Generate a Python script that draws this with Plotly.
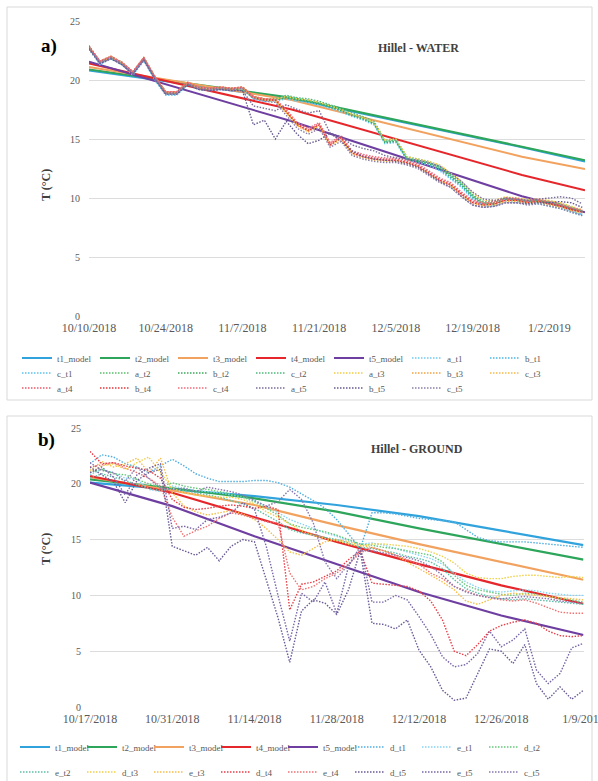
import pandas as pd
import plotly.graph_objects as go

# ---------------- Panel a (Hillel - WATER) ----------------
a_start = pd.Timestamp("2018-10-10")
a_days = list(range(0, 91, 2))
a_model_days = [0, 37, 79, 90.5]

a_t1_model = [20.8, 18.4, 14.3, 13.1]
a_t2_model = [20.9, 18.5, 14.35, 13.2]
a_t3_model = [21.1, 18.3, 13.5, 12.45]
a_t4_model = [21.4, 17.5, 11.95, 10.65]
a_t5_model = [21.55, 16.5, 10.15, 8.8]

a_t1 = [22.6, 21.3, 21.8, 21.3, 20.4, 21.6, 20.0, 18.7, 18.7, 19.6, 19.2, 19.1, 19.2, 19.1, 19.2, 18.4, 18.2, 18.2,
        18.4, 18.2, 18.1, 17.9, 17.6, 17.3, 16.9, 16.6, 16.2, 14.6, 14.7, 13.2, 13.0, 12.8, 12.3, 11.6, 10.9, 9.9, 9.3, 9.3, 9.7, 9.6, 9.5, 9.5, 9.3, 9.1, 8.8, 8.5]
b_t1 = [22.7, 21.4, 21.9, 21.4, 20.5, 21.7, 20.1, 18.8, 18.8, 19.7, 19.3, 19.2, 19.3, 19.2, 19.3, 18.5, 18.3, 18.3,
        18.5, 18.3, 18.2, 18.0, 17.7, 17.4, 17.0, 16.7, 16.3, 14.7, 14.8, 13.3, 13.1, 12.9, 12.4, 11.7, 11.0, 10.0, 9.4, 9.4, 9.8, 9.7, 9.6, 9.6, 9.4, 9.2, 8.9, 8.6]
c_t1 = [22.9, 21.5, 21.9, 21.4, 20.6, 21.8, 20.2, 18.8, 18.8, 19.7, 19.3, 19.2, 19.3, 19.2, 19.3, 18.5, 18.3, 18.4,
        18.6, 18.4, 18.3, 18.1, 17.8, 17.5, 17.1, 16.8, 16.4, 14.8, 14.9, 13.4, 13.2, 13.0, 12.6, 11.9, 11.2, 10.2, 9.5, 9.5, 9.9, 9.8, 9.7, 9.7, 9.5, 9.3, 8.9, 8.6]
a_t2 = [22.8, 21.5, 21.9, 21.4, 20.6, 21.8, 20.2, 18.9, 18.9, 19.7, 19.3, 19.2, 19.3, 19.2, 19.3, 18.5, 18.3, 18.3,
        18.6, 18.4, 18.3, 18.1, 17.8, 17.5, 17.1, 16.8, 16.4, 14.8, 14.9, 13.4, 13.2, 13.0, 12.6, 11.9, 11.2, 10.2, 9.6, 9.6, 10.0, 9.9, 9.8, 9.8, 9.7, 9.5, 9.2, 8.9]
b_t2 = [22.7, 21.5, 21.9, 21.4, 20.6, 21.8, 20.2, 18.9, 18.9, 19.7, 19.3, 19.2, 19.3, 19.2, 19.3, 18.5, 18.3, 18.3,
        18.5, 18.3, 18.2, 18.0, 17.7, 17.4, 17.0, 16.7, 16.3, 14.7, 14.8, 13.3, 13.1, 12.9, 12.5, 11.8, 11.1, 10.1, 9.5, 9.5, 9.9, 9.8, 9.7, 9.7, 9.6, 9.4, 9.1, 8.8]
c_t2 = [22.8, 21.6, 22.0, 21.5, 20.7, 21.9, 20.3, 19.0, 19.0, 19.8, 19.4, 19.3, 19.4, 19.3, 19.4, 18.6, 18.4, 18.4,
        18.7, 18.5, 18.4, 18.2, 17.9, 17.6, 17.2, 16.9, 16.5, 14.9, 15.0, 13.5, 13.3, 13.1, 12.7, 12.0, 11.3, 10.3, 9.7, 9.7, 10.0, 9.9, 9.8, 9.8, 9.7, 9.5, 9.2, 8.9]
a_t3 = [22.9, 21.6, 22.0, 21.5, 20.7, 21.9, 20.3, 19.0, 19.0, 19.8, 19.4, 19.3, 19.4, 19.3, 19.4, 18.6, 18.4, 18.4,
        18.6, 18.4, 18.3, 18.1, 17.8, 17.5, 17.1, 16.8, 16.4, 14.9, 15.0, 13.5, 13.3, 13.1, 12.8, 12.1, 11.4, 10.4, 9.8, 9.8, 10.1, 10.0, 9.9, 9.9, 9.8, 9.6, 9.3, 9.0]
b_t3 = [22.8, 21.6, 22.0, 21.5, 20.7, 21.9, 20.3, 19.0, 19.0, 19.8, 19.4, 19.3, 19.4, 19.3, 19.4, 18.6, 18.4, 18.3,
        17.3, 16.2, 15.7, 16.2, 14.5, 15.1, 13.8, 13.5, 13.3, 13.2, 13.2, 13.0, 12.7, 12.1, 11.5, 11.1, 10.3, 9.6, 9.4, 9.5, 9.8, 9.8, 9.6, 9.7, 9.5, 9.3, 9.0, 8.8]
c_t3 = [22.7, 21.5, 21.9, 21.4, 20.6, 21.8, 20.2, 18.9, 18.9, 19.7, 19.3, 19.2, 19.3, 19.2, 19.3, 18.5, 18.3, 18.2,
        17.2, 16.1, 15.6, 16.1, 14.4, 15.0, 13.7, 13.4, 13.2, 13.1, 13.1, 12.9, 12.6, 12.0, 11.4, 11.0, 10.2, 9.5, 9.3, 9.4, 9.7, 9.7, 9.5, 9.6, 9.4, 9.2, 8.9, 8.7]
a_t4 = [22.9, 21.6, 22.0, 21.5, 20.7, 21.9, 20.3, 19.0, 19.0, 19.8, 19.4, 19.3, 19.4, 19.3, 19.4, 18.6, 18.4, 18.3,
        17.4, 16.3, 15.8, 16.3, 14.6, 15.2, 13.9, 13.6, 13.4, 13.3, 13.3, 13.1, 12.8, 12.2, 11.6, 11.2, 10.4, 9.7, 9.5, 9.6, 9.9, 9.9, 9.7, 9.8, 9.6, 9.4, 9.1, 8.9]
b_t4 = [22.8, 21.5, 21.9, 21.4, 20.6, 21.8, 20.2, 18.9, 18.9, 19.7, 19.3, 19.2, 19.3, 19.2, 19.3, 18.5, 18.3, 18.3,
        17.3, 16.2, 15.7, 16.2, 14.5, 15.1, 13.8, 13.5, 13.3, 13.2, 13.2, 13.0, 12.7, 12.1, 11.5, 11.1, 10.3, 9.6, 9.4, 9.5, 9.8, 9.8, 9.6, 9.7, 9.5, 9.3, 9.0, 8.8]
c_t4 = [22.8, 21.6, 22.0, 21.5, 20.7, 21.9, 20.3, 19.0, 19.0, 19.8, 19.4, 19.3, 19.4, 19.3, 19.4, 18.6, 18.4, 18.4,
        17.5, 16.4, 15.9, 16.4, 14.7, 15.3, 14.0, 13.7, 13.5, 13.4, 13.4, 13.2, 12.9, 12.3, 11.7, 11.3, 10.5, 9.8, 9.6, 9.7, 10.0, 10.0, 9.8, 9.9, 9.7, 9.5, 9.2, 9.0]
a_t5 = [22.6, 21.4, 21.8, 21.3, 20.5, 21.7, 20.1, 18.8, 18.8, 19.6, 19.2, 19.1, 19.2, 19.1, 19.1, 17.8, 17.6, 17.4,
        17.9, 17.5, 17.2, 17.4, 15.5, 15.2, 14.5, 14.2, 14.0, 13.6, 13.4, 13.3, 13.2, 13.0, 12.7, 12.1, 11.4, 10.5, 9.9, 9.8, 10.0, 9.9, 9.8, 9.9, 10.0, 10.1, 10.0, 9.5]
b_t5 = [22.7, 21.4, 21.8, 21.3, 20.5, 21.7, 20.1, 18.8, 18.8, 19.6, 19.2, 19.1, 19.2, 19.1, 19.1, 16.2, 16.6, 15.0,
        16.5, 15.4, 14.6, 14.9, 15.5, 14.8, 14.0, 13.5, 13.3, 13.2, 13.1, 12.9, 12.6, 12.0, 11.4, 10.9, 10.1, 9.4, 9.2, 9.3, 9.6, 9.6, 9.5, 9.6, 9.6, 9.7, 9.6, 9.2]
c_t5 = [22.8, 21.5, 21.9, 21.4, 20.6, 21.8, 20.2, 18.9, 18.9, 19.7, 19.3, 19.2, 19.3, 19.2, 19.3, 18.4, 18.2, 18.1,
        17.0, 15.9, 15.4, 15.9, 14.3, 14.8, 13.6, 13.3, 13.1, 13.0, 13.0, 12.8, 12.5, 11.9, 11.3, 10.9, 10.1, 9.4, 9.2, 9.3, 9.6, 9.6, 9.4, 9.5, 9.3, 9.1, 8.8, 8.5]

# ---------------- Panel b (Hillel - GROUND) ----------------
b_start = pd.Timestamp("2018-10-17")
b_days = list(range(0, 85, 2))
b_model_days = [0, 14, 28, 42, 56, 70, 84]

b_t1_model = [20.1, 19.5, 18.9, 18.1, 17.1, 15.8, 14.5]
b_t2_model = [20.4, 19.6, 18.7, 17.5, 16.0, 14.6, 13.2]
b_t3_model = [20.6, 19.4, 18.1, 16.3, 14.6, 13.0, 11.4]
b_t4_model = [20.7, 19.2, 17.0, 14.8, 12.8, 10.9, 9.25]
b_t5_model = [20.1, 18.0, 15.3, 12.8, 10.3, 8.2, 6.45]

d_t1 = [21.8, 22.6, 22.4, 21.8, 21.5, 21.0, 21.6, 22.2, 21.6, 20.9, 20.5, 20.2, 20.2, 20.2, 20.3, 20.3, 20.1, 19.7, 19.1, 18.5,
        17.8, 16.8, 15.5, 14.2, 17.4, 17.4, 17.3, 17.1, 16.9, 16.8, 16.7, 16.6, 15.9, 15.2, 14.9, 14.8, 14.8, 14.8, 14.7, 14.6, 14.5, 14.4, 14.3]
e_t1 = [20.8, 21.3, 21.0, 20.5, 20.4, 19.5, 19.3, 19.8, 19.6, 19.4, 19.3, 19.2, 19.0, 18.8, 18.5, 18.0, 17.4, 16.8, 16.4, 16.0,
        15.6, 15.3, 14.9, 14.6, 14.7, 14.5, 14.2, 13.9, 13.6, 13.3, 12.8, 12.0, 11.2, 10.7, 10.4, 10.3, 10.4, 10.5, 10.4, 10.2, 10.1, 10.0, 10.0]
d_t2 = [21.0, 21.3, 20.9, 20.8, 20.4, 20.0, 19.7, 20.1, 19.8, 19.6, 19.5, 19.3, 19.1, 18.8, 18.4, 17.8, 17.2, 16.4, 16.1, 15.9,
        15.7, 15.4, 15.0, 14.6, 14.5, 14.3, 14.2, 14.0, 13.8, 13.6, 13.0, 11.8, 10.9, 10.5, 10.3, 10.1, 10.0, 10.2, 10.1, 9.9, 9.7, 9.6, 9.4]
e_t2 = [20.5, 20.9, 20.6, 20.3, 19.9, 19.6, 19.4, 19.6, 19.4, 19.2, 19.0, 18.8, 18.5, 18.2, 17.8, 17.2, 16.6, 15.9, 15.6, 15.4,
        15.2, 15.0, 14.7, 14.3, 14.2, 14.0, 13.8, 13.5, 13.3, 13.0, 12.4, 11.4, 10.6, 10.2, 9.9, 9.7, 9.6, 9.7, 9.6, 9.5, 9.4, 9.3, 9.2]
d_t3 = [21.0, 21.6, 21.8, 21.3, 21.9, 22.4, 21.0, 19.6, 19.2, 19.0, 18.9, 18.8, 18.8, 18.6, 18.2, 17.5, 17.0, 16.4, 15.8, 15.4,
        15.1, 14.9, 14.6, 14.4, 14.6, 14.6, 14.5, 14.4, 14.2, 13.9, 13.5, 12.9, 12.0, 11.6, 11.5, 11.5, 11.7, 11.8, 11.8, 11.7, 11.6, 11.7, 11.6]
e_t3 = [21.2, 22.0, 21.5, 21.8, 22.3, 21.0, 22.3, 19.2, 18.0, 17.5, 17.2, 17.4, 17.6, 17.3, 16.8, 16.0, 15.0, 13.9, 13.6, 14.2,
        14.8, 15.0, 14.8, 14.5, 14.3, 14.0, 13.6, 13.0, 12.4, 11.8, 11.2, 10.5, 9.5, 9.2, 9.6, 10.0, 10.2, 10.1, 10.0, 9.9, 9.8, 9.7, 9.6]
d_t4 = [22.9, 21.8, 21.9, 21.6, 21.4, 21.2, 20.5, 18.6, 17.9, 17.7, 17.8, 18.0, 18.1, 18.0, 17.8, 18.0, 17.7, 8.7, 11.0, 11.2,
        11.7, 12.2, 13.2, 14.0, 11.1, 11.0, 10.9, 10.8, 10.4, 9.5, 7.8, 5.0, 4.6, 5.6, 6.8, 7.3, 7.6, 7.8, 7.5, 6.8, 6.4, 6.3, 6.4]
e_t4 = [21.5, 21.7, 21.9, 21.4, 21.0, 20.5, 19.8, 17.0, 15.3, 15.8, 16.2, 16.9, 17.4, 17.2, 16.9, 16.6, 16.5, 12.0, 10.5, 10.8,
        11.5, 12.0, 12.8, 13.8, 14.3, 14.0, 13.6, 13.2, 12.8, 12.0, 11.5, 10.8, 10.4, 10.0, 9.8, 9.6, 9.5, 9.6, 9.3, 8.9, 8.5, 8.4, 8.4]
d_t5 = [21.5, 20.8, 20.2, 18.3, 20.3, 21.0, 21.3, 14.4, 14.0, 13.6, 14.3, 13.1, 14.4, 15.0, 14.8, 11.4, 8.0, 4.0, 8.6, 9.6,
        9.3, 8.3, 10.5, 14.0, 7.5, 7.4, 7.0, 7.8, 5.1, 3.6, 1.5, 0.6, 0.8, 3.0, 5.2, 5.0, 3.9, 5.6, 2.1, 0.7, 1.8, 0.7, 1.5]
e_t5 = [21.0, 21.5, 20.6, 19.0, 20.8, 21.4, 21.8, 16.0, 16.2, 15.9, 16.8, 17.0, 17.4, 18.3, 17.7, 14.4, 10.0, 5.9, 10.2, 9.4,
        11.2, 8.4, 12.6, 14.4, 9.4, 9.4, 10.0, 9.6, 8.1, 6.5, 4.5, 3.6, 3.8, 4.8, 6.8, 5.4, 6.0, 7.0, 3.3, 2.1, 3.0, 5.3, 5.7]
c_t5_b = [21.9, 21.2, 21.0, 20.2, 21.5, 20.5, 19.6, 19.5, 19.6, 19.3, 19.7, 19.5, 19.3, 19.0, 18.5, 18.0, 18.4, 19.5, 18.6, 16.5,
          13.0, 11.5, 12.8, 14.0, 14.0, 13.8, 13.6, 13.4, 13.1, 12.6, 11.8, 10.8, 10.3, 10.0, 9.8, 9.7, 9.8, 9.9, 9.8, 9.7, 9.5, 9.4, 9.3]

# ---------------- styling ----------------
MODEL_COL = {"t1": "#31A3DC", "t2": "#2DA55A", "t3": "#F2A25F", "t4": "#E5262B", "t5": "#6E3FA0"}
FONT = "Liberation Serif"
GRAY = "#595959"
DOT = "1.5px,1.5px"
W, H = 598, 781


def px_x(v):
    return v / W


def px_y(v):
    return 1 - v / H


def dates(start, days):
    return [start + pd.Timedelta(days=d) for d in days]


fig = go.Figure()

a_models = [("t1_model", a_t1_model, "t1"), ("t2_model", a_t2_model, "t2"), ("t3_model", a_t3_model, "t3"),
            ("t4_model", a_t4_model, "t4"), ("t5_model", a_t5_model, "t5")]
a_meas = [("a_t1", a_t1, "#6CCBF3", "legend"), ("b_t1", b_t1, "#49B6E6", "legend"),
          ("c_t1", c_t1, "#5BC2EE", "legend2"), ("a_t2", a_t2, "#57BF68", "legend2"),
          ("b_t2", b_t2, "#3BA85A", "legend2"), ("c_t2", c_t2, "#4BB97A", "legend2"),
          ("a_t3", a_t3, "#F3CC45", "legend2"), ("b_t3", b_t3, "#F2A442", "legend2"),
          ("c_t3", c_t3, "#F6B94A", "legend2"), ("a_t4", a_t4, "#EC5A6C", "legend3"),
          ("b_t4", b_t4, "#E2373C", "legend3"), ("c_t4", c_t4, "#EF6C7C", "legend3"),
          ("a_t5", a_t5, "#7A6C9A", "legend3"), ("b_t5", b_t5, "#67588F", "legend3"),
          ("c_t5", c_t5, "#8B7DA8", "legend3")]

for name, vals, key in a_models:
    fig.add_trace(go.Scatter(x=dates(a_start, a_model_days), y=vals, name=name, mode="lines",
                             line=dict(color=MODEL_COL[key], width=2), xaxis="x", yaxis="y", legend="legend"))
for name, vals, col, lg in a_meas:
    fig.add_trace(go.Scatter(x=dates(a_start, a_days), y=vals, name=name, mode="lines",
                             line=dict(color=col, width=1.4, dash=DOT), xaxis="x", yaxis="y", legend=lg))

b_models = [("t1_model", b_t1_model, "t1"), ("t2_model", b_t2_model, "t2"), ("t3_model", b_t3_model, "t3"),
            ("t4_model", b_t4_model, "t4"), ("t5_model", b_t5_model, "t5")]
b_meas = [("d_t1", d_t1, "#4FAFE0", "legend4"), ("e_t1", e_t1, "#86D4F4", "legend4"),
          ("d_t2", d_t2, "#66C879", "legend4"), ("e_t2", e_t2, "#5DBFA8", "legend5"),
          ("d_t3", d_t3, "#F0D04A", "legend5"), ("e_t3", e_t3, "#F6BE48", "legend5"),
          ("d_t4", d_t4, "#E63E48", "legend5"), ("e_t4", e_t4, "#F07272", "legend5"),
          ("d_t5", d_t5, "#6A5B96", "legend5"), ("e_t5", e_t5, "#7866A6", "legend5"),
          ("c_t5", c_t5_b, "#8877AE", "legend5")]

for name, vals, key in b_models:
    fig.add_trace(go.Scatter(x=dates(b_start, b_model_days), y=vals, name=name, mode="lines",
                             line=dict(color=MODEL_COL[key], width=2.2), xaxis="x2", yaxis="y2", legend="legend4"))
for name, vals, col, lg in b_meas:
    fig.add_trace(go.Scatter(x=dates(b_start, b_days), y=vals, name=name, mode="lines",
                             line=dict(color=col, width=1.4, dash=DOT), xaxis="x2", yaxis="y2", legend=lg))

tickfont = dict(family=FONT, size=10, color=GRAY)
xtickfont = dict(family=FONT, size=12, color=GRAY)


def xaxis_cfg(domain, start, end, anchor):
    return dict(domain=domain, anchor=anchor, type="date", range=[start, end],
                tick0=start, dtick=14 * 86400000, tickformat="%-m/%-d/%Y",
                showgrid=False, showline=False, zeroline=False, ticks="", automargin=False,
                tickfont=xtickfont, ticklabelstandoff=3, ticklabeloverflow="allow")


def yaxis_cfg(domain, anchor):
    return dict(domain=domain, anchor=anchor, range=[0, 25], dtick=5, showgrid=True,
                gridcolor="#DCDCDC", gridwidth=1, zeroline=False, showline=False, ticks="",
                automargin=False, tickfont=tickfont, ticklabelstandoff=8)


leg_common = dict(orientation="h", xanchor="left", yanchor="middle", bgcolor="rgba(0,0,0,0)",
                  font=dict(family=FONT, size=9, color=GRAY), itemwidth=30, tracegroupgap=0,
                  itemclick=False, itemdoubleclick=False)

fig.update_layout(
    width=W, height=H, margin=dict(l=0, r=0, t=0, b=0, autoexpand=False),
    paper_bgcolor="white", plot_bgcolor="white", showlegend=True,
    xaxis=xaxis_cfg([px_x(89), px_x(585)], "2018-10-10", "2019-01-08 12:00", "y"),
    yaxis=yaxis_cfg([px_y(316), px_y(21)], "x"),
    xaxis2=xaxis_cfg([px_x(90), px_x(583.5)], "2018-10-17", "2019-01-09", "y2"),
    yaxis2=yaxis_cfg([px_y(707), px_y(428)], "x2"),
    legend=dict(x=px_x(17), y=px_y(358), entrywidth=33, **leg_common),
    legend2=dict(x=px_x(17), y=px_y(373), entrywidth=33, **leg_common),
    legend3=dict(x=px_x(17), y=px_y(388), entrywidth=33, **leg_common),
    legend4=dict(x=px_x(15), y=px_y(747), entrywidth=22, **leg_common),
    legend5=dict(x=px_x(15), y=px_y(772), entrywidth=22, **leg_common),
    shapes=[
        dict(type="rect", xref="paper", yref="paper", x0=px_x(7), x1=px_x(592), y0=px_y(400), y1=px_y(7),
             line=dict(color="#D9D9D9", width=1), fillcolor="rgba(0,0,0,0)", layer="below"),
        dict(type="rect", xref="paper", yref="paper", x0=px_x(7), x1=px_x(592), y0=px_y(782), y1=px_y(416),
             line=dict(color="#D9D9D9", width=1), fillcolor="rgba(0,0,0,0)", layer="below"),
    ],
    annotations=[
        dict(text="<b>a)</b>", x=px_x(39), y=px_y(33), xref="paper", yref="paper", showarrow=False,
             font=dict(family=FONT, size=19, color="black")),
        dict(text="<b>Hillel - WATER</b>", x=px_x(461), y=px_y(39), xref="paper", yref="paper", showarrow=False,
             font=dict(family=FONT, size=12, color="#404040")),
        dict(text="<b>T (°C)</b>", x=px_x(37), y=px_y(167), xref="paper", yref="paper", showarrow=False,
             textangle=-90, font=dict(family=FONT, size=12, color="#404040")),
        dict(text="<b>b)</b>", x=px_x(36), y=px_y(440), xref="paper", yref="paper", showarrow=False,
             font=dict(family=FONT, size=19, color="black")),
        dict(text="<b>Hillel - GROUND</b>", x=px_x(465), y=px_y(449), xref="paper", yref="paper", showarrow=False,
             font=dict(family=FONT, size=12, color="#404040")),
        dict(text="<b>T (°C)</b>", x=px_x(37), y=px_y(567), xref="paper", yref="paper", showarrow=False,
             textangle=-90, font=dict(family=FONT, size=12, color="#404040")),
    ],
)

fig.write_html("out.html")
